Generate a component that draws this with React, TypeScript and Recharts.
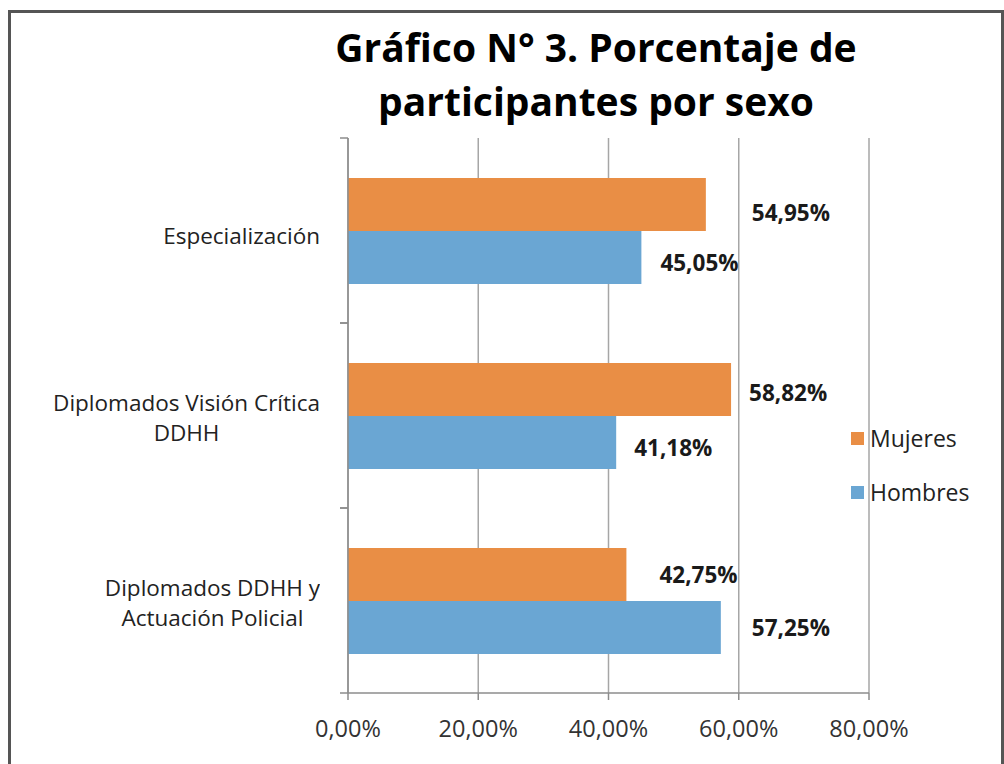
import React from 'react';
import { BarChart, Bar, XAxis, YAxis, CartesianGrid, LabelList } from 'recharts';

const categories = ['Especialización', 'Diplomados Visión Crítica\nDDHH', 'Diplomados DDHH y\nActuación Policial'];
const mujeres = [54.95, 58.82, 42.75];
const hombres = [45.05, 41.18, 57.25];
const xTicks = [0, 20, 40, 60, 80];
const seriesNames = ['Mujeres', 'Hombres'];

// label style offsets (px) per row
const mujeresLabelDx = [46, 18, 33];
const mujeresLabelDy = [8, 3, 0];
const hombresLabelDx = [19, 18, 31];
const hombresLabelDy = [5, 5, 0];

const data = categories.map((c, i) => ({ name: c, Mujeres: mujeres[i], Hombres: hombres[i] }));

const COLORS: Record<string, string> = { Mujeres: '#E98E45', Hombres: '#6AA6D3' };
const FONT = '"Open Sans", sans-serif';
const W = 1004;
const H = 764;
const M = { top: 138, right: 135, bottom: 31, left: 8 };
const Y_AXIS_W = 340;
const X_AXIS_H = 40;
const PLOT_H = H - M.top - M.bottom - X_AXIS_H;
const HALF_BAND = PLOT_H / categories.length / 2;

const fmt = (v: number) => v.toFixed(2).replace('.', ',') + '%';

const CategoryTick = (props: any) => {
  const { x, y, payload } = props;
  const lines = String(payload.value).split('\n');
  return (
    <g>
      <line x1={x - 8} x2={x} y1={y - HALF_BAND} y2={y - HALF_BAND} stroke="#8c8c8c" strokeWidth={1.5} />
      <line x1={x - 8} x2={x} y1={y + HALF_BAND} y2={y + HALF_BAND} stroke="#8c8c8c" strokeWidth={1.5} />
      <foreignObject x={x - 340} y={y - 60} width={312} height={120}>
        <div style={{ width: 312, height: 120, display: 'flex', justifyContent: 'flex-end', alignItems: 'center' }}>
          <div style={{ textAlign: 'center', fontFamily: FONT, fontSize: 22.5, lineHeight: '30px', color: '#222', whiteSpace: 'nowrap', paddingTop: lines.length === 1 ? 10 : 4 }}>
            {lines.map((l, i) => (
              <div key={i}>{l}</div>
            ))}
          </div>
        </div>
      </foreignObject>
    </g>
  );
};

const makeLabel = (dxs: number[], dys: number[]) => (props: any) => {
  const { x, y, width, height, index, value } = props;
  return (
    <text
      x={x + width + dxs[index]}
      y={y + height / 2 + dys[index]}
      dominantBaseline="central"
      textAnchor="start"
      fontFamily={FONT}
      fontWeight="bold"
      fontSize={22.5}
      fill="#1a1a1a"
    >
      {fmt(value)}
    </text>
  );
};

export default function App() {
  return (
    <div style={{ position: 'absolute', left: 0, top: 0, width: W, height: H, background: '#fff', overflow: 'hidden' }}>
      <div
        style={{
          position: 'absolute',
          left: 8,
          top: 10,
          width: 990,
          height: 760,
          borderTop: '3px solid #555',
          borderLeft: '3px solid #555',
          borderRight: '3px solid #555',
        }}
      />
      <div
        style={{
          position: 'absolute',
          left: 0,
          width: W,
          top: 20,
          textAlign: 'center',
          fontFamily: FONT,
          fontWeight: 'bold',
          fontSize: 39,
          lineHeight: '54px',
          color: '#000',
          paddingLeft: 188,
          boxSizing: 'border-box',
        }}
      >
        <div>Gráfico N° 3. Porcentaje de</div>
        <div>participantes por sexo</div>
      </div>
      <div style={{ position: 'absolute', left: 0, top: 0 }}>
        <BarChart width={W} height={H} data={data} layout="vertical" margin={M} barCategoryGap="21.6%" barGap={0}>
          <CartesianGrid horizontal={false} stroke="#a6a6a6" strokeWidth={1.5} />
          <XAxis
            type="number"
            domain={[0, 80]}
            ticks={xTicks}
            tickFormatter={fmt}
            height={X_AXIS_H}
            stroke="#8c8c8c"
            strokeWidth={1.5}
            tickSize={7}
            tickMargin={20}
            tick={{ fontFamily: FONT, fontSize: 23.5, fill: '#333' }}
          />
          <YAxis
            type="category"
            dataKey="name"
            width={Y_AXIS_W}
            stroke="#8c8c8c"
            strokeWidth={1.5}
            tickLine={false}
            tickSize={0}
            tickMargin={0}
            interval={0}
            tick={<CategoryTick />}
          />
          <Bar dataKey="Mujeres" fill={COLORS.Mujeres} isAnimationActive={false}>
            <LabelList dataKey="Mujeres" content={makeLabel(mujeresLabelDx, mujeresLabelDy)} />
          </Bar>
          <Bar dataKey="Hombres" fill={COLORS.Hombres} isAnimationActive={false}>
            <LabelList dataKey="Hombres" content={makeLabel(hombresLabelDx, hombresLabelDy)} />
          </Bar>
        </BarChart>
      </div>
      <div style={{ position: 'absolute', left: 851, top: 422, fontFamily: FONT, fontSize: 23, color: '#222' }}>
        {seriesNames.map((n, i) => (
          <div key={n} style={{ display: 'flex', alignItems: 'center', height: 32, marginBottom: i === 0 ? 22 : 0 }}>
            <span style={{ display: 'inline-block', width: 13, height: 13, background: COLORS[n], marginRight: 6 }} />
            <span>{n}</span>
          </div>
        ))}
      </div>
    </div>
  );
}
